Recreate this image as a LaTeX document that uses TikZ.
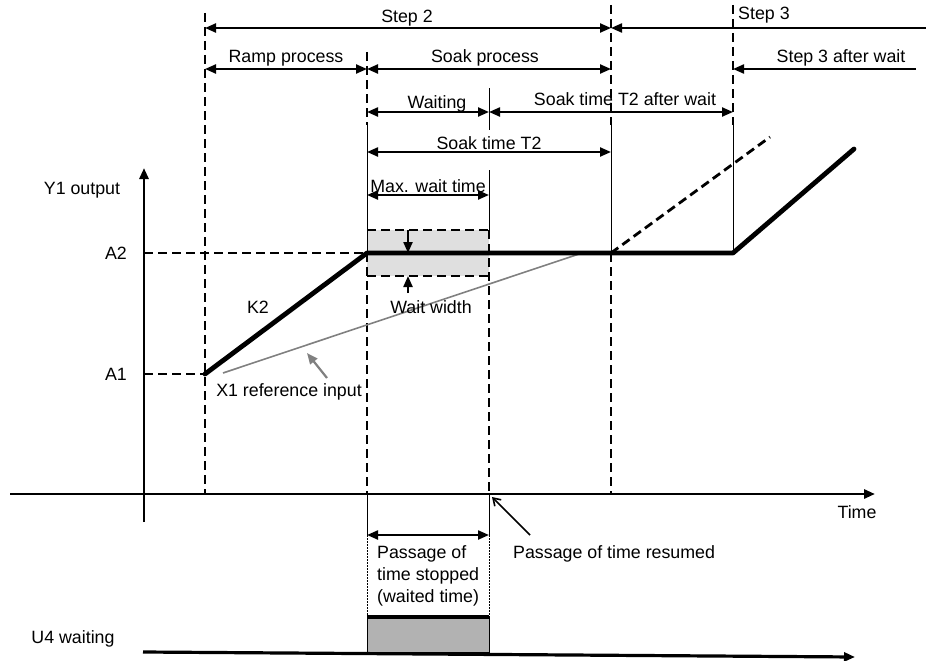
\documentclass[tikz,border=0pt]{standalone}
\usepackage{fontspec}
\setmainfont{Liberation Sans}
\usetikzlibrary{arrows.meta}
\begin{document}
\begin{tikzpicture}[x=1pt,y=-1pt,
  font=\fontsize{17.8}{21.5}\selectfont,
  >={Triangle[length=11pt,width=9pt]},
  dim/.style={line width=2.2pt,<->},
  one/.style={line width=2.2pt,->},
  vdash/.style={line width=2.6pt,dash pattern=on 9pt off 5pt},
  thinline/.style={line width=0.9pt},
  dotline/.style={line width=0.9pt,dash pattern=on 1.5pt off 1.5pt},
  curve/.style={line width=4.8pt,line join=round,line cap=round},
  lbl/.style={inner sep=0pt,anchor=base},
]
\useasboundingbox (0,0) rectangle (926,661);

% ---------- key coordinates ----------
\coordinate (s2L) at (205,28);  \coordinate (s2R) at (611,28);  \coordinate (s3R) at (926,28);
\coordinate (rpL) at (205,69);  \coordinate (rpR) at (367,69);  \coordinate (spR) at (611,69);
\coordinate (awR) at (916,69);  \coordinate (awL) at (733,69);
\coordinate (wtL) at (367,112); \coordinate (wtR) at (489,112); \coordinate (taR) at (733,112);
\coordinate (stL) at (367,152); \coordinate (stR) at (611,152);
\coordinate (mwL) at (367,195); \coordinate (mwR) at (489,195);
\coordinate (bxTL) at (367,230); \coordinate (bxTR) at (489,230);
\coordinate (bxBL) at (367,276); \coordinate (bxBR) at (489,276);
\coordinate (A2y) at (144,253); \coordinate (A1y) at (144,374);
\coordinate (P0) at (205,374); \coordinate (P1) at (367,253);
\coordinate (P2) at (733,253); \coordinate (P3) at (854,149);
\coordinate (Q0) at (611,253); \coordinate (Q1) at (770,137);
\coordinate (X0) at (223,373); \coordinate (X1) at (582,253);
\coordinate (yB) at (144,522); \coordinate (yT) at (144,168);
\coordinate (tL) at (10,494);  \coordinate (tR) at (875,494);
\coordinate (pwL) at (367,535); \coordinate (pwR) at (489,535);
\coordinate (uL) at (143,652); \coordinate (uR) at (855,657);

% ---------- grey wait band ----------
\fill[gray!25] (bxTL) rectangle (bxBR);
\draw[vdash,line width=2pt] (bxTL) -- (bxTR);
\draw[vdash,line width=2pt] (bxBL) -- (bxBR);

% ---------- vertical guide lines ----------
\draw[vdash] (205,13) -- (205,494);
\draw[vdash] (367,52) -- (367,125);
\draw[thinline] (367,125) -- (367,253);
\draw[vdash] (367,253) -- (367,494);
\draw[thinline] (367,494) -- (pwL);
\draw[dotline] (pwL) -- (367,617);

\draw[thinline] (489,88) -- (489,130);
\draw[thinline] (489,170) -- (bxTR);
\draw[vdash] (bxTR) -- (489,494);
\draw[thinline] (489,494) -- (pwR);
\draw[dotline] (pwR) -- (489,617);

\draw[vdash] (611,5) -- (611,125);
\draw[thinline] (611,125) -- (Q0);
\draw[vdash] (Q0) -- (611,494);

\draw[vdash] (733,5) -- (733,125);
\draw[thinline] (733,125) -- (P2);

% ---------- level lines ----------
\draw[vdash] (A2y) -- (P1);
\draw[vdash] (A1y) -- (P0);

% ---------- axes ----------
\draw[line width=2.8pt,->] (yB) -- (yT);
\draw[line width=2.8pt,->] (tL) -- (tR);

% ---------- curves ----------
\draw[gray,line width=1.6pt] (X0) -- (X1);
\draw[vdash,line width=2.8pt] (Q0) -- (Q1);
\draw[curve] (P0) -- (P1) -- (P2) -- (P3);
\draw[gray,line width=2.2pt,->] (327,378) -- (307,353);

% ---------- dimension arrows ----------
\draw[dim] (s2L) -- (s2R);
\draw[one] (s3R) -- (s2R);
\draw[dim] (rpL) -- (rpR);
\draw[dim] (rpR) -- (spR);
\draw[one] (awR) -- (awL);
\draw[dim] (wtL) -- (wtR);
\draw[dim] (wtR) -- (taR);
\draw[dim] (stL) -- (stR);
\draw[dim] (mwL) -- (mwR);
\draw[one] (408,230) -- (408,253);
\draw[one] (408,293) -- (408,276);

% ---------- labels ----------
\node[lbl] (l-s2) at (407,23) {Step 2};
\node[lbl,anchor=base west] (l-s3) at (738,20) {Step 3};
\node[lbl] (l-rp) at (286,63) {Ramp process};
\node[lbl] (l-sp) at (485,63) {Soak process};
\node[lbl] (l-aw) at (841,63) {Step 3 after wait};
\node[lbl] (l-wt) at (437,108) {Waiting};
\node[lbl] (l-ta) at (625,105) {Soak time T2 after wait};
\node[lbl] (l-st) at (489,149) {Soak time T2};
\node[lbl] (l-mw) at (428,192) {Max. wait time};
\node[lbl] (l-ww) at (431,313) {Wait width};
\node[lbl] (l-k2) at (258,313) {K2};
\node[lbl] (l-x1) at (289,396) {X1 reference input};
\node[lbl] (l-a2) at (116,259) {A2};
\node[lbl] (l-a1) at (116,380) {A1};
\node[lbl] (l-y1) at (82,194) {Y1 output};
\node[lbl] (l-tm) at (857,518) {Time};
\node[lbl] (l-u4) at (73,643) {U4 waiting};

% ---------- bottom: passage of time ----------
\draw[dim] (pwL) -- (pwR);
\node[lbl,anchor=base west] (l-p1) at (377,558) {Passage of};
\node[lbl,anchor=base west] (l-p2) at (377,580) {time stopped};
\node[lbl,anchor=base west] (l-p3) at (377,602) {(waited time)};
\coordinate (resT) at (530,535); \coordinate (resH) at (492,497);
\draw[line width=1.6pt,-{Straight Barb[length=7pt,width=9pt]}] (resT) -- (resH);
\node[lbl,anchor=base west] (l-res) at (513,558) {Passage of time resumed};

% ---------- U4 waiting signal ----------
\filldraw[fill=gray!60,draw=black,thinline] (367,617) rectangle (489,652);
\draw[line width=4.2pt] (367,617) -- (489,617);
\draw[line width=3.2pt,->] (uL) -- (uR);
\end{tikzpicture}
\end{document}
